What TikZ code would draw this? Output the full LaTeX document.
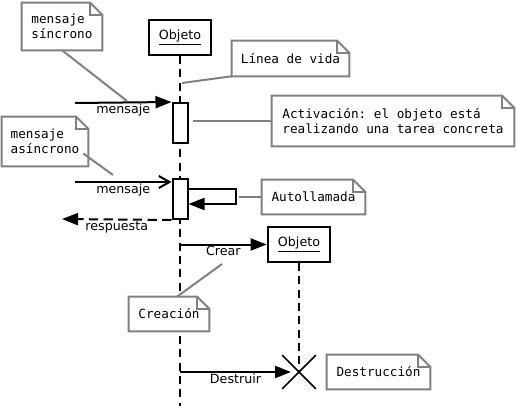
\documentclass[tikz,border=0pt]{standalone}
\usepackage{fontspec}
\setmainfont{DejaVu Sans}
\setmonofont{DejaVu Sans Mono}
\usetikzlibrary{arrows.meta,positioning,shapes.misc}

% folded corner of a note, drawn round node #1
\newcommand\pliegue[1]{%
  \draw[notaborde] (#1.south west) -- (#1.north west) -- ([xshift=-9pt]#1.north east)
    -- ([yshift=-9pt]#1.north east) -- (#1.south east) -- cycle;
  \draw[notaborde] ([xshift=-9pt]#1.north east) |- ([yshift=-9pt]#1.north east);}

\begin{document}
\begin{tikzpicture}[x=0.75pt,y=-0.75pt,>=Latex,
  objeto/.style={draw,line width=1.5pt,fill=white,minimum width=47pt,minimum height=26.25pt,inner sep=0pt,font=\fontsize{9.5}{11}\selectfont},
  activ/.style={draw,line width=1.5pt,fill=white,minimum width=11.25pt,minimum height=30pt,inner sep=0pt},
  nota/.style={fill=white,inner sep=0pt,align=left,font=\ttfamily\fontsize{9.5}{11.5}\selectfont},
  notaborde/.style={draw=gray,line width=1.5pt,line join=miter},
  notalinea/.style={draw=gray,line width=1.5pt},
  vida/.style={line width=0.8pt,dash pattern=on 6pt off 4pt},
  msg/.style={line width=1.5pt,-{Triangle[length=12pt,width=9pt]}},
  asinc/.style={line width=1.5pt,-{Straight Barb[length=8pt,width=9pt,line width=1.5pt]}},
  resp/.style={msg,dash pattern=on 7pt off 4pt},
  lbl/.style={font=\fontsize{9.5}{10}\selectfont,inner sep=0.5pt}]
\useasboundingbox (0,0) rectangle (516,409);

% objects and lifelines
\node[objeto] (obj1) at (180,37.5) {\underline{Objeto}};
\coordinate (fin1) at (180,406);
\draw[vida] (obj1.south) -- (fin1);
\node[activ] (act1) at (180,123) {};
\node[activ] (act2) at (180,199) {};

\node[objeto] (obj2) at (299,244.5) {\underline{Objeto}};
\node[cross out,draw,line width=1.2pt,minimum size=24pt,inner sep=0pt] (cruz) at (299,372) {};
\draw[vida] (obj2.south) -- (cruz.center);

% messages
\coordinate (s1) at (75,103);
\draw[msg] (s1) -- node[lbl,below] {mensaje} (act1.north west);

\coordinate (s2) at (75,182);
\draw[asinc] (s2) -- node[lbl,below] {mensaje} (s2 -| act2.west);

\draw[msg] ([yshift=-8.25pt]act2.north east) -- ++(47,0) -- ++(0,15) -- ++(-47,0);

\coordinate (r) at (62,219);
\draw[resp] (act2.south west) -- node[lbl,below] {respuesta} (r);

\coordinate (c0) at (obj1.south |- obj2.west);
\draw[msg] (c0) -- node[lbl,below] {Crear} (obj2.west);

\coordinate (d0) at (obj1.south |- cruz.center);
\draw[msg,shorten >=6pt] (d0) -- node[lbl,below,xshift=-3pt] {Destruir} (cruz.center);

% notes
\node[nota,minimum width=60pt,minimum height=35.25pt] (n1) at (62,26.5) {mensaje\\síncrono};
\pliegue{n1}
\node[nota,minimum width=87.75pt,minimum height=26.25pt] (n2) at (290.5,58.5) {Línea de vida};
\pliegue{n2}
\node[nota,minimum width=181.5pt,minimum height=37.5pt] (n3) at (393,121) {Activación: el objeto está\\realizando una tarea concreta};
\pliegue{n3}
\node[nota,minimum width=64.5pt,minimum height=36.75pt] (n4) at (45,141.5) {mensaje\\asíncrono};
\pliegue{n4}
\node[nota,minimum width=77.25pt,minimum height=25.5pt] (n5) at (313.5,197) {Autollamada};
\pliegue{n5}
\node[nota,minimum width=60pt,minimum height=25.5pt] (n6) at (169,314) {Creación};
\pliegue{n6}
\node[nota,minimum width=77.25pt,minimum height=25.5pt] (n7) at (378.5,372) {Destrucción};
\pliegue{n7}

% note connectors
\coordinate (p1) at (127,101);
\draw[notalinea] (n1.south) -- (p1);
\coordinate (p2) at (182,83);
\draw[notalinea] (n2.south west) -- (p2);
\coordinate (p3) at (193,121);
\draw[notalinea] (n3.west) -- (p3);
\coordinate (p4) at (113,175);
\draw[notalinea] ([shift={(-5,12)}]n4.east) -- (p4);
\coordinate (p5) at (239,197);
\draw[notalinea] (n5.west) -- (p5);
\coordinate (p6) at (222,264);
\draw[notalinea] ([xshift=6pt]n6.north) -- (p6);
\end{tikzpicture}
\end{document}
